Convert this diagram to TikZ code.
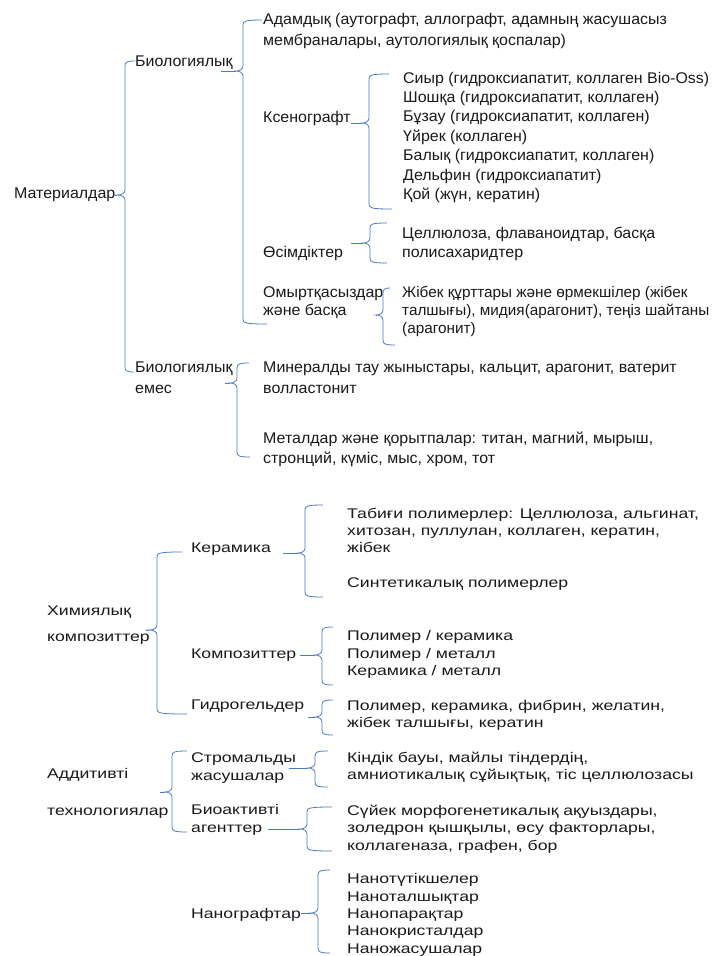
\documentclass[tikz,border=0pt]{standalone}
\usepackage{fontspec}
\setmainfont{Liberation Sans}
\newfontfamily\topf[FakeStretch=1.03]{Liberation Sans}
\newfontfamily\narf{Liberation Sans}
\newfontfamily\botf[FakeStretch=1.26]{Liberation Sans}
\definecolor{tcol}{HTML}{1A1A1A}
\definecolor{bcol}{HTML}{4F7BC4}
\newcommand\brc[7]{% x, ytop, xtopend, tipx, ymid, ybot, xbotend
  \draw[br] (#3,#2) .. controls (#1+2,#2) and (#1,#2+1) .. (#1,#2+5)
    -- (#1,#5-5) .. controls (#1,#5-2) and (#1-3,#5) .. (#4,#5)
    .. controls (#1-3,#5) and (#1,#5+2) .. (#1,#5+5)
    -- (#1,#6-5) .. controls (#1,#6-1) and (#1+2,#6) .. (#7,#6);}
\begin{document}
\begin{tikzpicture}[x=1pt,y=-1pt,
  txt/.style={inner sep=0pt, anchor=base west, text=tcol, font=\topf\fontsize{15.5}{18}\selectfont},
  ntxt/.style={txt, font=\narf\fontsize{15.3}{18}\selectfont},
  btxt/.style={txt, font=\botf\fontsize{14}{17}\selectfont},
  br/.style={draw=bcol, line width=0.8pt}]
\useasboundingbox[fill=white] (0,0) rectangle (722,956);

% ---------- top section ----------
\node[txt] (mat) at (14,198) {Материалдар};
\node[txt] (bio) at (135,66) {Биологиялық};
\node[txt] (adam1) at (263,24) {Адамдық (аутографт, аллографт, адамның жасушасыз};
\node[txt] (adam2) at (263,45) {мембраналары, аутологиялық қоспалар)};
\node[txt] (ksen) at (263,122) {Ксенографт};
\node[txt] (x1) at (403,83) {Сиыр (гидроксиапатит, коллаген Bio-Oss)};
\node[txt] (x2) at (403,102.4) {Шошқа (гидроксиапатит, коллаген)};
\node[txt] (x3) at (403,121.8) {Бұзау (гидроксиапатит, коллаген)};
\node[txt] (x4) at (403,141.2) {Үйрек (коллаген)};
\node[txt] (x5) at (403,160.6) {Балық (гидроксиапатит, коллаген)};
\node[txt] (x6) at (403,180) {Дельфин (гидроксиапатит)};
\node[txt] (x7) at (403,199.4) {Қой (жүн, кератин)};
\node[txt] (os) at (263,257) {Өсімдіктер};
\node[txt] (os1) at (402,238) {Целлюлоза, флаваноидтар, басқа};
\node[txt] (os2) at (402,257) {полисахаридтер};
\node[txt] (om1) at (263,297) {Омыртқасыздар};
\node[txt] (om2) at (263,315) {және басқа};
\node[ntxt] (j1) at (402,297) {Жібек құрттары және өрмекшілер (жібек};
\node[ntxt] (j2) at (402,315) {талшығы), мидия(арагонит), теңіз шайтаны};
\node[ntxt] (j3) at (402,333) {(арагонит)};
\node[txt] (be1) at (135,372) {Биологиялық};
\node[txt] (be2) at (135,393) {емес};
\node[txt] (mi1) at (263,372) {Минералды тау жыныстары, кальцит, арагонит, ватерит};
\node[txt] (mi2) at (263,393) {волластонит};
\node[txt] (me1) at (263,443) {Металдар және қорытпалар: титан, магний, мырыш,};
\node[txt] (me2) at (263,463) {стронций, күміс, мыс, хром, тот};

\coordinate (tA) at (117,195);
\coordinate (tB) at (236,71);
\coordinate (tC) at (362,123);
\coordinate (tD) at (363,243);
\coordinate (tE) at (376,315);
\coordinate (tF) at (230,383);
\brc{125}{61}{135}{117}{195}{372}{134}
\brc{243}{20}{262}{236}{71}{324}{267}
\brc{369}{74}{389}{362}{123}{209}{392}
\brc{370}{223}{387}{363}{243}{263}{387}
\brc{383}{288}{390}{376}{315}{345}{395}
\brc{237}{363}{249}{230}{383}{457}{250}
\draw[br] (mat.east |- tA) -- (tA);
\draw[br] ([xshift=-12pt]bio.east |- tB) -- (tB);
\draw[br] (ksen.east |- tC) -- (tC);
\draw[br] ([xshift=8pt]os.east |- tD) -- (tD);
\draw[br] ([xshift=-6pt]om1.east |- tE) -- (tE);
\draw[br] ([xshift=-8pt]bio.east |- tF) -- (tF);

% ---------- bottom section ----------
\node[btxt] (hi1) at (47,615) {Химиялық};
\node[btxt] (hi2) at (47,641) {композиттер};
\node[btxt] (ker) at (191,552) {Керамика};
\node[btxt] (ta1) at (347,518) {Табиғи полимерлер: Целлюлоза, альгинат,};
\node[btxt] (ta2) at (347,535) {хитозан, пуллулан, коллаген, кератин,};
\node[btxt] (ta3) at (347,552) {жібек};
\node[btxt] (sin) at (347,587) {Синтетикалық полимерлер};
\node[btxt] (kom) at (191,658) {Композиттер};
\node[btxt] (k1) at (347,640) {Полимер / керамика};
\node[btxt] (k2) at (347,658) {Полимер / металл};
\node[btxt] (k3) at (347,675) {Керамика / металл};
\node[btxt] (gid) at (191,709) {Гидрогельдер};
\node[btxt] (g1) at (347,710) {Полимер, керамика, фибрин, желатин,};
\node[btxt] (g2) at (347,727) {жібек талшығы, кератин};
\node[btxt] (ad1) at (47,778) {Аддитивті};
\node[btxt] (ad2) at (47,815) {технологиялар};
\node[btxt] (st1) at (191,762) {Стромальды};
\node[btxt] (st2) at (191,780) {жасушалар};
\node[btxt] (ki1) at (347,762) {Кіндік бауы, майлы тіндердің,};
\node[btxt] (ki2) at (347,779) {амниотикалық сұйықтық, тіс целлюлозасы};
\node[btxt] (ba1) at (191,814) {Биоактивті};
\node[btxt] (ba2) at (191,832) {агенттер};
\node[btxt] (su1) at (347,815) {Сүйек морфогенетикалық ақуыздары,};
\node[btxt] (su2) at (347,832) {золедрон қышқылы, өсу факторлары,};
\node[btxt] (su3) at (347,850) {коллагеназа, графен, бор};
\node[btxt] (nan) at (191,918) {Нанографтар};
\node[btxt] (n1) at (347,883) {Нанотүтікшелер};
\node[btxt] (n2) at (347,901) {Наноталшықтар};
\node[btxt] (n3) at (347,918) {Нанопарақтар};
\node[btxt] (n4) at (347,935) {Нанокристалдар};
\node[btxt] (n5) at (347,953) {Наножасушалар};

\coordinate (tG) at (149,630);
\coordinate (tH) at (298,553);
\coordinate (tI) at (315,655);
\coordinate (tJ) at (315,717);
\coordinate (tK) at (165,792);
\coordinate (tL) at (308,768);
\coordinate (tM) at (300,829);
\coordinate (tN) at (311,913);
\brc{157}{552}{182}{149}{630}{714}{187}
\brc{305}{505}{323}{298}{553}{597}{323}
\brc{322}{627}{333}{315}{655}{685}{333}
\brc{322}{700}{333}{315}{717}{735}{333}
\brc{172}{751}{187}{165}{792}{832}{187}
\brc{315}{751}{328}{308}{768}{787}{328}
\brc{307}{807}{332}{300}{829}{851}{332}
\brc{318}{870}{330}{311}{913}{953}{330}
\draw[br] ([xshift=-4pt]hi2.east |- tG) -- (tG);
\draw[br] ([xshift=12pt]ker.east |- tH) -- (tH);
\draw[br] ([xshift=4pt]kom.east |- tI) -- (tI);
\draw[br] ([xshift=4pt]gid.east |- tJ) -- (tJ);
\draw[br] ([xshift=-9pt]ad2.east |- tK) -- (tK);
\draw[br] ([xshift=4pt]st2.east |- tL) -- (tL);
\draw[br] ([xshift=6pt]ba2.east |- tM) -- (tM);
\draw[br] (nan.east |- tN) -- (tN);
\end{tikzpicture}
\end{document}
